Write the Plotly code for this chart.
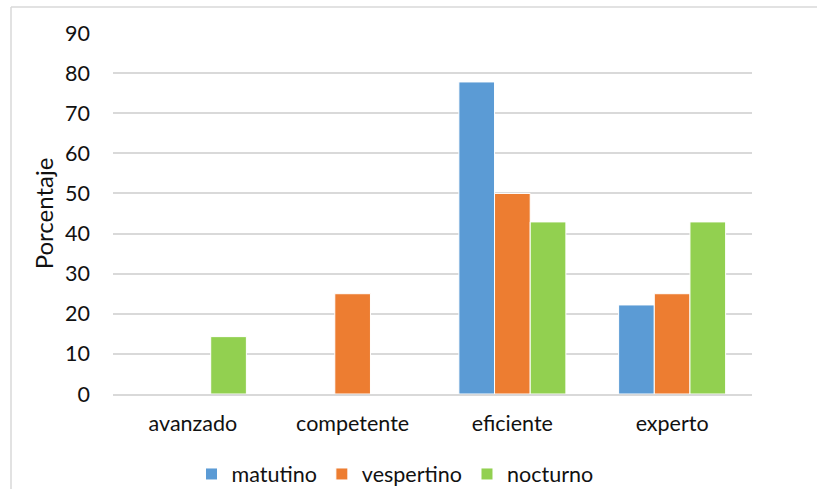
import plotly.graph_objects as go

categories = ["avanzado", "competente", "eficiente", "experto"]
matutino = [0, 0, 77.8, 22.2]
vespertino = [0, 25.0, 50.0, 25.0]
nocturno = [14.3, 0, 42.9, 42.9]

series = [
    ("matutino", matutino, "#5B9BD5"),
    ("vespertino", vespertino, "#ED7D31"),
    ("nocturno", nocturno, "#92D050"),
]

FONT = "Lato"
FS = 21.5

fig = go.Figure()
for name, vals, color in series:
    fig.add_trace(go.Bar(
        name=name, x=categories, y=vals,
        marker=dict(color=color, line=dict(color="white", width=1)),
    ))

# plot area in pixels
L, R, T, B = 113, 65, 33, 95
W, H = 817, 489
pw, ph = W - L - R, H - T - B
fx = (11 - L) / pw
fy = (H - B - 7) / ph

fig.update_layout(
    width=W, height=H,
    margin=dict(l=L, r=R, t=T, b=B, autoexpand=False),
    paper_bgcolor="white", plot_bgcolor="white",
    barmode="group", bargap=0.33, bargroupgap=0,
    font=dict(family=FONT, size=FS, color="#111111"),
    showlegend=True,
    legend=dict(orientation="h", x=(395 - L) / pw, xanchor="center",
                y=-(474 - (H - B)) / ph, yanchor="middle",
                font=dict(family=FONT, size=FS), itemwidth=30, traceorder="normal"),
    yaxis=dict(range=[0, 90], dtick=10, showgrid=True, gridcolor="#D9D9D9", gridwidth=1.5,
               zeroline=False, showline=False, ticks="", ticklabelstandoff=22,
               title=dict(text="Porcentaje", font=dict(family=FONT, size=24), standoff=4)),
    xaxis=dict(showline=True, linecolor="#D9D9D9", linewidth=1.5, ticks="",
               ticklabelstandoff=9),
    shapes=[
        dict(type="line", xref="paper", yref="paper", x0=fx, x1=(W - L) / pw, y0=fy, y1=fy,
             line=dict(color="#D9D9D9", width=1.5)),
        dict(type="line", xref="paper", yref="paper", x0=fx, x1=fx, y0=fy, y1=-(B + 5) / ph,
             line=dict(color="#D9D9D9", width=1.5)),
    ],
)

fig.write_html("out.html")
